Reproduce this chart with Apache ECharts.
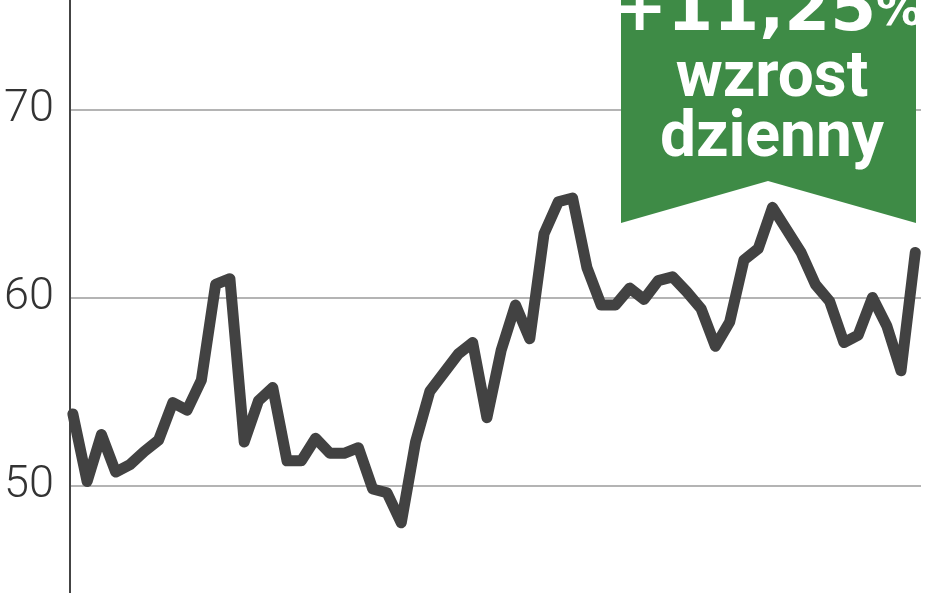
<!DOCTYPE html>
<html>
<head>
<meta charset="utf-8">
<script src="https://cdn.jsdelivr.net/npm/echarts@6/dist/echarts.min.js"></script>
<style>
html,body{margin:0;padding:0;background:#fff;}
#chart{width:948px;height:593px;}
</style>
</head>
<body>
<div id="chart"></div>
<script>
// Session index (trading days) and price values
const days = [0,1,2,3,4,5,6,7,8,9,10,11,12,13,14,15,16,17,18,19,20,21,22,23,24,25,26,27,28,29,30,31,32,33,34,35,36,37,38,39,40,41,42,43,44,45,46,47,48,49,50,51,52,53,54,55,56,57,58,59];
const values = [53.8,50.2,52.7,50.7,51.1,51.8,52.4,54.4,54.0,55.6,
                60.7,61.0,52.3,54.5,55.2,51.3,51.3,52.5,51.7,51.7,
                52.0,49.8,49.6,48.0,52.3,55.0,56.0,57.0,57.6,53.6,
                57.2,59.6,57.8,63.4,65.1,65.3,61.6,59.6,59.6,60.5,
                59.9,60.9,61.1,60.3,59.4,57.4,58.7,62.0,62.6,64.8,
                63.6,62.4,60.7,59.8,57.6,58.0,60.0,58.5,56.1,62.4];
const yTicks = [40,50,60,70,80];
const bannerLines = ['+11,25', '%', 'wzrost', 'dzienny'];

const chart = echarts.init(document.getElementById('chart'), null, {renderer:'canvas'});
const seriesData = days.map((d,i)=>[d, values[i]]);

chart.setOption({
  animation:false,
  backgroundColor:'#ffffff',
  grid:{left:70, top:-78, width:851, height:751, containLabel:false, outerBoundsMode:'none'},
  xAxis:{type:'value', min:-0.2, max:59.4, show:false},
  yAxis:{
    type:'value', min:yTicks[0], max:yTicks[yTicks.length-1], interval:10,
    axisLine:{show:true, onZero:false, lineStyle:{color:'#444', width:2}},
    axisTick:{show:false},
    axisLabel:{margin:16, color:'#333', fontSize:45, fontFamily:'Roboto', fontWeight:300},
    splitLine:{show:true, lineStyle:{color:'#b4b4b4', width:2}}
  },
  series:[{
    type:'line', data:seriesData, symbol:'none', smooth:false,
    lineStyle:{color:'#424242', width:11, cap:'round', join:'round'},
    z:3
  }],
  graphic:[
    {type:'polygon', z:10,
     shape:{points:[[621,-10],[916,-10],[916,223],[768,181],[621,223]]},
     style:{fill:'#3e8b46'}},
    {type:'text', z:11, x:612, y:46,
     style:{text:'{a|'+bannerLines[0]+'}{b|'+bannerLines[1]+'}', textAlign:'left', textVerticalAlign:'bottom',
       rich:{a:{fill:'#fff', fontFamily:'DejaVu Sans', fontWeight:'bold', fontSize:66},
             b:{fill:'#fff', fontFamily:'DejaVu Sans', fontWeight:'bold', fontSize:46}}}},
    {type:'text', z:11, x:772, y:80,
     style:{text:bannerLines[2], fill:'#fff', font:'bold 64px Roboto', textAlign:'center', textVerticalAlign:'middle'}},
    {type:'text', z:11, x:772, y:140,
     style:{text:bannerLines[3], fill:'#fff', font:'bold 64px Roboto', textAlign:'center', textVerticalAlign:'middle'}}
  ]
});
</script>
</body>
</html>
